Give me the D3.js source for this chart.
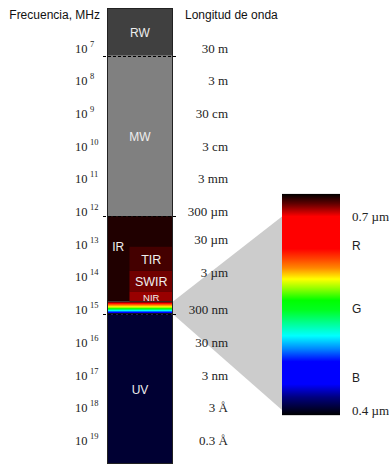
<!DOCTYPE html>
<html><head><meta charset="utf-8">
<script src="https://cdn.jsdelivr.net/npm/d3@7"></script>
<style>body{margin:0;background:#fff}svg{display:block}</style>
</head><body>
<svg id="c" width="389" height="465"></svg>
<script>
// ---- data ----
const freqExponents = [7,8,9,10,11,12,13,14,15,16,17,18,19];
const wavelengthLabels = ["30 m","3 m","30 cm","3 cm","3 mm","300 µm","30 µm","3 µm","300 nm","30 nm","3 nm","3 Å","0.3 Å"];
const bandNames = ["RW","MW","IR","UV"];
const bandFrom  = [5.64, 7.1, 12, 15];
const bandTo    = [7.1, 12, 14.61, 19.58];
const subBandNames = ["TIR","SWIR","NIR"];
const subBandFrom  = [12.94, 13.68, 14.31];
const subBandTo    = [13.68, 14.31, 14.61];
const visibleFrom = 14.61, visibleTo = 15;
const boundaries = [7.1, 12, 15];
const spectrumRange = [0.735, 0.392];   // µm, top to bottom
const spectrumStopsUm = [0.735,0.72,0.70,0.65,0.635,0.62,0.603,0.59,0.57,0.555,0.535,0.515,0.495,0.475,0.44,0.42,0.392];
const spectrumStopColors = ["#000000","#600000","#ff0000","#ff0000","#ff4000","#ff8800","#ffff00","#a0ff00","#00ff00","#00ff20","#00ff90","#00ffff","#0088ff","#0000ff","#0000ff","#000080","#000000"];
const spectrumLabels = ["0.7 µm","R","G","B","0.4 µm"];
const spectrumLabelUm = [0.70, 0.655, 0.557, 0.45, 0.40];

// ---- styles ----
const bandColors = {RW:"#404040", MW:"#808080", IR:"#200000", UV:"#000033"};
const subColors = {TIR:"#440000", SWIR:"#700000", NIR:"#990000"};
const sans = "Liberation Sans, Arial, sans-serif";
const serif = "Liberation Serif, Times New Roman, serif";

const svg = d3.select("#c");
const y = d3.scaleLinear().domain([7,19]).range([52.5,445]);
const barX0 = 107, barX1 = 173, subX0 = 129.5;
const yS = d3.scaleLinear().domain([0.7,0.4]).range([216.5,410]);
const specX0 = 282, specX1 = 340;

// gradient for spectrum
const defs = svg.append("defs");
const g1 = defs.append("linearGradient").attr("id","spec")
  .attr("gradientUnits","userSpaceOnUse").attr("x1",0).attr("x2",0)
  .attr("y1",yS(spectrumRange[0])).attr("y2",yS(spectrumRange[1]));
spectrumStopsUm.forEach((u,i)=>g1.append("stop")
  .attr("offset",(yS(u)-yS(spectrumRange[0]))/(yS(spectrumRange[1])-yS(spectrumRange[0])))
  .attr("stop-color",spectrumStopColors[i]));
const g2 = defs.append("linearGradient").attr("id","rain").attr("x1",0).attr("x2",0).attr("y1",0).attr("y2",1);
[["#ff0000",0],["#ff0000",0.12],["#ff8800",0.28],["#ffff00",0.42],["#00ff00",0.58],["#00ffff",0.74],["#0000ff",0.88],["#0000ff",1]]
  .forEach(([c,o])=>g2.append("stop").attr("offset",o).attr("stop-color",c));

// gray wedge
svg.append("path")
  .attr("d",`M${barX1},${y(visibleFrom)}L${specX0},${yS(0.7)}L${specX0},${yS(0.4)}L${barX1},${y(visibleTo)}Z`)
  .attr("fill","#cccccc");

// main bands
svg.selectAll("rect.band").data(bandNames).join("rect").attr("class","band")
  .attr("x",barX0).attr("width",barX1-barX0)
  .attr("y",(d,i)=>y(bandFrom[i])).attr("height",(d,i)=>y(bandTo[i])-y(bandFrom[i]))
  .attr("fill",d=>bandColors[d]);
svg.selectAll("rect.sub").data(subBandNames).join("rect").attr("class","sub")
  .attr("x",subX0).attr("width",barX1-subX0)
  .attr("y",(d,i)=>y(subBandFrom[i])).attr("height",(d,i)=>y(subBandTo[i])-y(subBandFrom[i]))
  .attr("fill",d=>subColors[d]);
// visible strip
svg.append("rect").attr("x",barX0+0.5).attr("width",barX1-barX0-1)
  .attr("y",y(visibleFrom)+0.5).attr("height",y(visibleTo)-y(visibleFrom)-1)
  .attr("fill","url(#rain)").attr("stroke","#000").attr("stroke-width",1);
// bar outline
svg.append("rect").attr("x",barX0+0.5).attr("y",y(bandFrom[0])+0.5)
  .attr("width",barX1-barX0-1).attr("height",y(bandTo[3])-y(bandFrom[0])-1)
  .attr("fill","none").attr("stroke","#222").attr("stroke-width",1);

// dashed boundaries
svg.selectAll("line.b").data(boundaries).join("line").attr("class","b")
  .attr("x1",barX0-4).attr("x2",barX1+4).attr("y1",d=>Math.round(y(d))+0.5).attr("y2",d=>Math.round(y(d))+0.5)
  .attr("stroke","#000").attr("stroke-width",1).attr("stroke-dasharray","3,2");

// band labels
const labelTxt = (t,x,yy,fs)=>svg.append("text").attr("x",x).attr("y",yy).attr("text-anchor","middle")
  .attr("dominant-baseline","central").attr("font-family",sans).attr("font-size",fs).attr("fill","#eeeeee").text(t);
bandNames.forEach((n,i)=>{
  if(n==="IR") labelTxt(n,(barX0+subX0)/2,y(subBandFrom[0]),12);
  else labelTxt(n,(barX0+barX1)/2,(y(bandFrom[i])+y(bandTo[i]))/2+1,12);
});
subBandNames.forEach((n,i)=>labelTxt(n,(subX0+barX1)/2,(y(subBandFrom[i])+y(subBandTo[i]))/2+1, n==="NIR"?9.5:12.5));

// frequency labels
const ft = svg.selectAll("text.f").data(freqExponents).join("text").attr("class","f")
  .attr("x",75).attr("y",d=>y(d)).attr("font-family",serif).attr("font-size",12.5).attr("fill","#222");
ft.append("tspan").text("10");
ft.append("tspan").attr("dx",2.5).attr("dy",-6).attr("font-size",8.5).text(d=>d);

// wavelength labels
const nudge = {"30 µm":-5,"3 µm":-4};
svg.selectAll("text.w").data(wavelengthLabels).join("text").attr("class","w")
  .attr("x",228).attr("y",(d,i)=>y(freqExponents[i])+(nudge[d]||0)).attr("text-anchor","end")
  .attr("font-family",serif).attr("font-size",13).attr("fill","#222").text(d=>d);

// headers
svg.append("text").attr("x",100).attr("y",18.5).attr("text-anchor","end").attr("font-family",sans).attr("font-size",12).attr("fill","#111").text("Frecuencia, MHz");
svg.append("text").attr("x",185).attr("y",18.5).attr("font-family",sans).attr("font-size",12).attr("fill","#111").text("Longitud de onda");

// spectrum bar
svg.append("rect").attr("x",specX0).attr("width",specX1-specX0)
  .attr("y",yS(spectrumRange[0])).attr("height",yS(spectrumRange[1])-yS(spectrumRange[0]))
  .attr("fill","url(#spec)");
svg.selectAll("text.s").data(spectrumLabels).join("text").attr("class","s")
  .attr("x",352).attr("y",(d,i)=>yS(spectrumLabelUm[i])).attr("dominant-baseline","central")
  .attr("font-family",d=>d.length>1?serif:sans).attr("font-size",d=>d.length>1?13:12).attr("fill","#222").text(d=>d);
</script>
</body></html>
